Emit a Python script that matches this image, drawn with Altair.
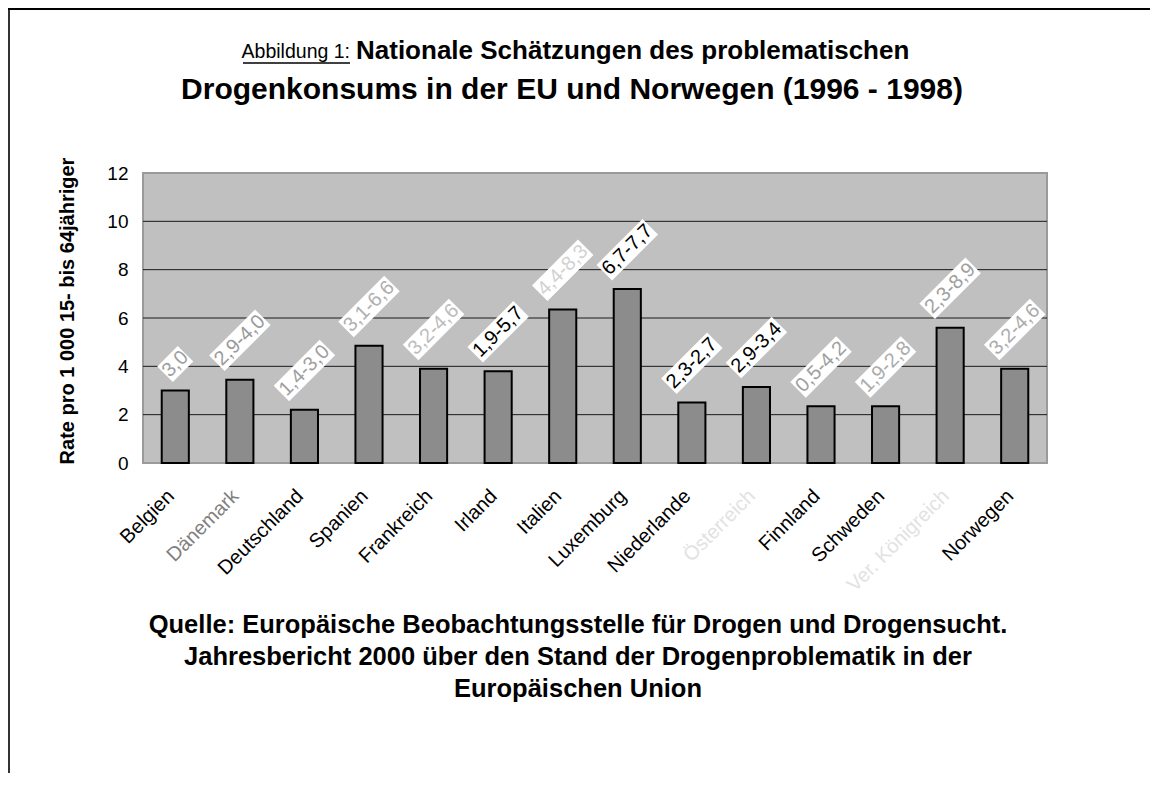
import altair as alt
import pandas as pd

# ---- data ----
countries = ["Belgien", "Dänemark", "Deutschland", "Spanien", "Frankreich", "Irland",
             "Italien", "Luxemburg", "Niederlande", "Österreich", "Finnland", "Schweden",
             "Ver. Königreich", "Norwegen"]
midpoints = [3.0, 3.45, 2.2, 4.85, 3.9, 3.8, 6.35, 7.2, 2.5, 3.15, 2.35, 2.35, 5.6, 3.9]
range_labels = ["3,0", "2,9-4,0", "1,4-3,0", "3,1-6,6", "3,2-4,6", "1,9-5,7", "4,4-8,3",
                "6,7-7,7", "2,3-2,7", "2,9-3,4", "0,5-4,2", "1,9-2,8", "2,3-8,9", "3,2-4,6"]
y_ticks = [0, 2, 4, 6, 8, 10, 12]
grid_values = [2, 4, 6, 8, 10]

# ---- styles (separate from data) ----
label_colors = ["#a0a0a0", "#9a9a9a", "#a0a0a0", "#b0b0b0", "#bdbdbd", "#000000", "#d2d2d2",
                "#000000", "#000000", "#000000", "#a0a0a0", "#acacac", "#a0a0a0", "#acacac"]
tick_colors = ["#000000", "#808080", "#000000", "#000000", "#000000", "#000000", "#000000",
               "#000000", "#000000", "#e2e2e2", "#000000", "#000000", "#e2e2e2", "#000000"]

title_prefix = "Abbildung 1:"
title_line1 = "Nationale Schätzungen des problematischen"
title_line2 = "Drogenkonsums in der EU und Norwegen (1996 - 1998)"
y_title = "Rate pro 1 000 15- bis 64jähriger"
source_lines = ["Quelle: Europäische Beobachtungsstelle für Drogen und Drogensucht.",
                "Jahresbericht 2000 über den Stand der Drogenproblematik in der",
                "Europäischen Union"]

FONT = "Liberation Sans"
W, H = 904, 290
PAD_L, PAD_T, PAD_R, PAD_B = 135, 165, 103, 310
PX_PER_UNIT = H / 12.0
LABEL_FS = 20

df = pd.DataFrame({
    "land": countries,
    "wert": midpoints,
    "spanne": range_labels,
    "farbe": label_colors,
    "tickfarbe": tick_colors,
})

x_enc = alt.X("land:N", sort=countries,
              scale=alt.Scale(paddingInner=0.58, paddingOuter=0.29), axis=None)
y_scale = alt.Scale(domain=[0, 12], nice=False, zero=True)

grid = alt.Chart(pd.DataFrame({"g": grid_values})).mark_rule(
    color="#1a1a1a", strokeWidth=1
).encode(y=alt.Y("g:Q", scale=y_scale))

bars = alt.Chart(df).mark_bar(fill="#8c8c8c", stroke="#000000", strokeWidth=2).encode(
    x=x_enc,
    y=alt.Y("wert:Q", scale=y_scale,
            axis=alt.Axis(values=y_ticks, title=None, ticks=False, domain=False, grid=False,
                          labelFont=FONT, labelFontSize=19, labelColor="#000000",
                          labelPadding=15)),
)

base = alt.Chart(df).transform_calculate(
    tw=f"length(datum.spanne) * 0.45 * {LABEL_FS}"
).transform_calculate(
    ly=f"datum.wert + (0.354 * datum.tw + 17) / {PX_PER_UNIT}",
    hw="(datum.tw / 2 + 1) / 50",
    hh="11 / 50",
).transform_calculate(
    boxpath="'M' + (-datum.hw) + ',' + (-datum.hh) + 'H' + datum.hw + 'V' + datum.hh + 'H' + (-datum.hw) + 'Z'"
)

boxes = base.mark_point(filled=True, fill="white", opacity=1, strokeWidth=0,
                        size=10000, angle=315).encode(
    x=x_enc,
    y=alt.Y("ly:Q", scale=y_scale),
    shape=alt.Shape("boxpath:N", scale=None),
)

value_text = base.mark_text(angle=315, align="center", baseline="middle",
                            font=FONT, fontSize=LABEL_FS).encode(
    x=x_enc,
    y=alt.Y("ly:Q", scale=y_scale),
    text="spanne:N",
    color=alt.Color("farbe:N", scale=None),
)

tick_text = alt.Chart(df).mark_text(angle=315, align="right", baseline="middle",
                                    font=FONT, fontSize=20, dx=-6).encode(
    x=x_enc,
    y=alt.value(H + 26),
    text="land:N",
    color=alt.Color("tickfarbe:N", scale=None),
)

# ---- annotations: titles, source, frame ----
def text_layer(txt, xv, yv, **kw):
    return alt.Chart(pd.DataFrame({"t": [txt]})).mark_text(font=FONT, **kw).encode(
        x=alt.value(xv), y=alt.value(yv), text="t:N")

t_prefix = text_layer(title_prefix, 350 - 143, 52 - 173, fontSize=19.5, align="right",
                      baseline="middle", color="#000000")
t_line1 = text_layer(title_line1, 356 - 143, 51 - 173, fontSize=26, fontWeight="bold",
                     align="left", baseline="middle", color="#000000")
t_line2 = text_layer(title_line2, 572 - 143, 90 - 173, fontSize=30, fontWeight="bold",
                     align="center", baseline="middle", color="#000000")
underline = alt.Chart(pd.DataFrame({"a": [0]})).mark_rule(color="#000000", strokeWidth=1.5).encode(
    x=alt.value(243 - 143), x2=alt.value(350 - 143), y=alt.value(63 - 173))

y_title_mark = text_layer(y_title, 68 - 143, 311 - 173, fontSize=20, fontWeight="bold",
                          angle=270, align="center", baseline="middle", color="#000000")

src = [text_layer(line, 578 - 143, yy - 173, fontSize=25.5, fontWeight="bold", align="center",
                  baseline="middle", color="#000000")
       for line, yy in zip(source_lines, [625, 657, 689])]

frame_left = alt.Chart(pd.DataFrame({"a": [0]})).mark_rule(color="#333333", strokeWidth=2).encode(
    x=alt.value(-PAD_L + 1), y=alt.value(-PAD_T), y2=alt.value(H + PAD_B))
frame_top = alt.Chart(pd.DataFrame({"a": [0]})).mark_rule(color="#000000", strokeWidth=2).encode(
    x=alt.value(-PAD_L), x2=alt.value(W + PAD_R), y=alt.value(-PAD_T + 1))

chart = alt.layer(
    grid, bars, boxes, value_text, tick_text,
    t_prefix, t_line1, t_line2, underline, y_title_mark, *src,
    frame_left, frame_top,
).properties(
    width=W, height=H,
    padding={"left": PAD_L, "top": PAD_T, "right": PAD_R, "bottom": PAD_B},
    autosize=alt.AutoSizeParams(type="none"),
    background="white",
).configure_view(
    fill="#c0c0c0", stroke="#9a9a9a", strokeWidth=2,
)

chart.save("out.html", embed_options={"renderer": "svg", "actions": False})
